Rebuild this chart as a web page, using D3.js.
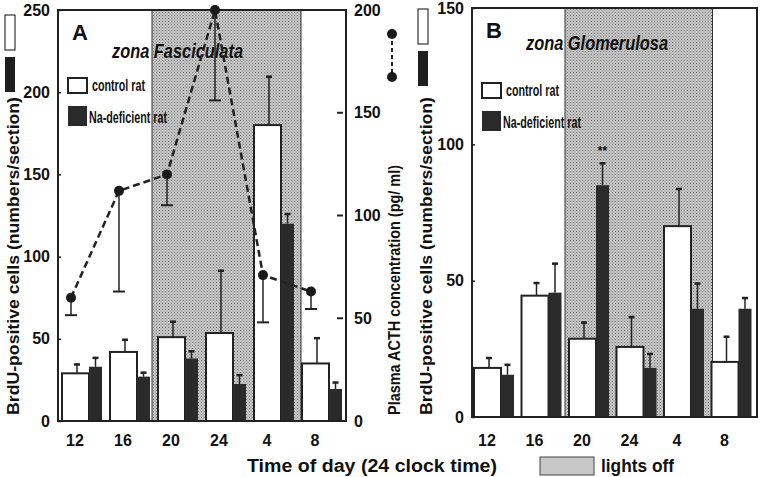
<!DOCTYPE html>
<html>
<head>
<meta charset="utf-8">
<script src="https://cdn.jsdelivr.net/npm/d3@7"></script>
<style>
  body { margin: 0; background: #fff; }
  text { font-family: "Liberation Sans", Arial, sans-serif; font-weight: bold; fill: #111; }
  .narrow { font-family: "Liberation Sans Narrow", "Liberation Sans", Arial, sans-serif; }
</style>
</head>
<body>
<svg width="760" height="477"></svg>
<script>
// data
var hours = ['12', '16', '20', '24', '4', '8'];

// zona fasciculata (panel A), BrdU cells, mean and error above the bar
var fascControl = [29, 42, 51, 53.5, 180, 35];
var fascControlErr = [6, 8, 10, 38.5, 30, 16];
var fascNa = [33, 27, 38, 22.5, 120, 19.5];
var fascNaErr = [6, 3, 5, 6, 6.5, 4.5];

// plasma ACTH (right axis of A), error drawn downward
var acth = [60, 112, 120, 200, 71, 63];
var acthErr = [8.5, 49, 15, 44, 23, 8.5];

// zona glomerulosa (panel B)
var glomControl = [18, 44.5, 28.7, 25.7, 70, 20.2];
var glomControlErr = [4, 5, 6.3, 11.3, 14, 9.6];
var glomNa = [15.5, 45.6, 85, 18, 39.7, 39.7];
var glomNaErr = [4, 11, 8.4, 5.5, 9.6, 4.3];

var fascTicks = [0, 50, 100, 150, 200, 250];
var acthTicks = [0, 50, 100, 150, 200];
var glomTicks = [0, 50, 100, 150];

var svg = d3.select('svg');

// halftone pattern for the dark phase
var pat = svg.append('defs').append('pattern')
  .attr('id', 'dots')
  .attr('width', 3).attr('height', 3)
  .attr('patternUnits', 'userSpaceOnUse');
pat.append('rect').attr('width', 3).attr('height', 3).attr('fill', '#c4c4c4');
pat.append('rect').attr('width', 1).attr('height', 1).attr('fill', '#7a7a7a');
pat.append('rect').attr('x', 1.5).attr('y', 1.5).attr('width', 1).attr('height', 1).attr('fill', '#9a9a9a');

var drawPanel = function(p) {
  var x = d3.scaleBand().domain(hours).range([p.left, p.right]);
  var y = d3.scaleLinear().domain([0, p.max]).range([p.bottom, p.top]);
  var g = svg.append('g');

  // lights off shading (20 .. 4)
  g.append('rect')
    .attr('x', x('20') - 2)
    .attr('y', p.top)
    .attr('width', x('8') + 3 - x('20') + 2)
    .attr('height', p.bottom - p.top)
    .attr('fill', 'url(#dots)')
    .attr('stroke', '#333')
    .attr('stroke-width', 1);

  // control bars
  g.selectAll('.ctl')
    .data(p.control)
    .enter()
    .append('rect')
    .attr('x', function(d, i) { return x(hours[i]) + p.off; })
    .attr('y', function(d) { return y(d); })
    .attr('width', 27)
    .attr('height', function(d) { return p.bottom - y(d); })
    .attr('fill', '#fff')
    .attr('stroke', '#222')
    .attr('stroke-width', 2);

  // Na-deficient bars
  g.selectAll('.na')
    .data(p.na)
    .enter()
    .append('rect')
    .attr('x', function(d, i) { return x(hours[i]) + p.off + 27; })
    .attr('y', function(d) { return y(d); })
    .attr('width', 13)
    .attr('height', function(d) { return p.bottom - y(d); })
    .attr('fill', '#2a2a2a');

  var errBars = function(vals, errs, dx) {
    vals.forEach(function(v, i) {
      var cx = x(hours[i]) + dx;
      g.append('line')
        .attr('x1', cx).attr('x2', cx)
        .attr('y1', y(v)).attr('y2', y(v + errs[i]))
        .attr('stroke', '#222').attr('stroke-width', 1.5);
      g.append('line')
        .attr('x1', cx - 3).attr('x2', cx + 3)
        .attr('y1', y(v + errs[i]) + 1).attr('y2', y(v + errs[i]) + 1)
        .attr('stroke', '#222').attr('stroke-width', 2.5);
    });
  };
  errBars(p.control, p.controlErr, p.off + 15);
  errBars(p.na, p.naErr, p.off + 33.5);

  // frame
  g.append('rect')
    .attr('x', p.left).attr('y', p.top)
    .attr('width', p.right - p.left).attr('height', p.bottom - p.top)
    .attr('fill', 'none').attr('stroke', '#222').attr('stroke-width', 2);

  // left axis, small ticks inside the frame
  var ax = g.append('g')
    .attr('transform', 'translate(' + p.left + ',0)')
    .call(d3.axisLeft(y).tickValues(p.ticks).tickSize(-3).tickPadding(8));
  ax.select('.domain').remove();
  ax.selectAll('line').attr('stroke', '#222').attr('stroke-width', 1.5);
  ax.selectAll('text').style('font-size', '16px').attr('fill', '#111');

  // bottom tick labels under the white bars
  g.selectAll('.hr')
    .data(hours)
    .enter()
    .append('text')
    .attr('x', function(d) { return x(d) + p.off + 13; })
    .attr('y', 446)
    .attr('text-anchor', 'middle')
    .style('font-size', '16px')
    .text(function(d) { return d; });

  // legend
  g.append('rect').attr('x', p.left + 10).attr('y', p.legY)
    .attr('width', 19).attr('height', 15)
    .attr('fill', '#fff').attr('stroke', '#222').attr('stroke-width', 2);
  g.append('rect').attr('x', p.left + 10).attr('y', p.legY + 28)
    .attr('width', 19).attr('height', 20).attr('fill', '#2a2a2a');
  g.append('text').attr('class', 'narrow')
    .attr('x', p.left + 34).attr('y', p.legY + 13)
    .attr('textLength', 53).attr('lengthAdjust', 'spacingAndGlyphs')
    .style('font-size', '16px').text('control rat');
  g.append('text').attr('class', 'narrow')
    .attr('x', p.left + 31).attr('y', p.legY + 45)
    .attr('textLength', 78).attr('lengthAdjust', 'spacingAndGlyphs')
    .style('font-size', '16px').text('Na-deficient rat');

  g.append('text')
    .attr('x', p.left + 14).attr('y', p.letterY)
    .style('font-size', '22px').text(p.letter);
  g.append('text').attr('class', 'narrow')
    .attr('x', p.zx).attr('y', p.zy)
    .attr('textLength', p.zw).attr('lengthAdjust', 'spacingAndGlyphs')
    .style('font-size', '21px').style('font-style', 'italic')
    .attr('fill', '#333')
    .text(p.zone);

  // y title with the white/black key above it
  g.append('text')
    .attr('transform', 'translate(' + p.titleX + ',415) rotate(-90)')
    .attr('textLength', 318).attr('lengthAdjust', 'spacingAndGlyphs')
    .style('font-size', '16px')
    .text('BrdU-positive cells (numbers/section)');
  g.append('rect').attr('x', p.titleX - 14).attr('y', p.keyY)
    .attr('width', 10).attr('height', 35)
    .attr('fill', '#fff').attr('stroke', '#333').attr('stroke-width', 1.2);
  g.append('rect').attr('x', p.titleX - 14).attr('y', p.keyY + 42)
    .attr('width', 10).attr('height', 35).attr('fill', '#1e1e1e');

  return { x: x, y: y, g: g };
};

var A = drawPanel({
  left: 58, right: 346, top: 10, bottom: 421, max: 250, off: 4,
  control: fascControl, controlErr: fascControlErr, na: fascNa, naErr: fascNaErr,
  ticks: fascTicks, legY: 78, letter: 'A', letterY: 40,
  zone: 'zona Fasciculata', zx: 112, zy: 58, zw: 131,
  titleX: 19, keyY: 15
});

var B = drawPanel({
  left: 472, right: 757, top: 8, bottom: 417, max: 150, off: 2,
  control: glomControl, controlErr: glomControlErr, na: glomNa, naErr: glomNaErr,
  ticks: glomTicks, legY: 83, letter: 'B', letterY: 38,
  zone: 'zona Glomerulosa', zx: 526, zy: 50, zw: 142,
  titleX: 432, keyY: 9
});

B.g.append('text')
  .attr('x', B.x('20') + 2 + 27 + 6.5).attr('y', 155)
  .attr('text-anchor', 'middle')
  .style('font-size', '12px')
  .text('**');

// ACTH on the right axis of panel A
var yA = d3.scaleLinear().domain([0, 200]).range([421, 10]);
var px = function(i) { return A.x(hours[i]) + 13; };

var rax = A.g.append('g')
  .attr('transform', 'translate(346,0)')
  .call(d3.axisRight(yA).tickValues(acthTicks).tickSize(0).tickPadding(8));
rax.select('.domain').remove();
rax.selectAll('text').style('font-size', '16px').attr('fill', '#111');
A.g.selectAll('.rt')
  .data([50, 100, 150])
  .enter()
  .append('line')
  .attr('x1', 337).attr('x2', 343)
  .attr('y1', function(d) { return yA(d); })
  .attr('y2', function(d) { return yA(d); })
  .attr('stroke', '#222').attr('stroke-width', 2);

acth.forEach(function(v, i) {
  A.g.append('line')
    .attr('x1', px(i)).attr('x2', px(i))
    .attr('y1', yA(v)).attr('y2', yA(v - acthErr[i]))
    .attr('stroke', '#222').attr('stroke-width', 1.5);
  A.g.append('line')
    .attr('x1', px(i) - 6).attr('x2', px(i) + 6)
    .attr('y1', yA(v - acthErr[i])).attr('y2', yA(v - acthErr[i]))
    .attr('stroke', '#222').attr('stroke-width', 2);
});

A.g.append('path')
  .datum(acth)
  .attr('d', d3.line().x(function(d, i) { return px(i); }).y(function(d) { return yA(d); }))
  .attr('fill', 'none')
  .attr('stroke', '#222')
  .attr('stroke-width', 2.5)
  .attr('stroke-dasharray', '7,4');

A.g.selectAll('.dot')
  .data(acth)
  .enter()
  .append('circle')
  .attr('cx', function(d, i) { return px(i); })
  .attr('cy', function(d) { return yA(d); })
  .attr('r', 5)
  .attr('fill', '#1a1a1a');

A.g.append('text')
  .attr('transform', 'translate(400,415) rotate(-90)')
  .attr('textLength', 250).attr('lengthAdjust', 'spacingAndGlyphs')
  .style('font-size', '16px')
  .text('Plasma ACTH concentration (pg/ ml)');
A.g.append('line')
  .attr('x1', 392).attr('x2', 392).attr('y1', 34).attr('y2', 77)
  .attr('stroke', '#222').attr('stroke-width', 2).attr('stroke-dasharray', '4,3');
A.g.selectAll('.kdot')
  .data([34, 77])
  .enter()
  .append('circle')
  .attr('cx', 392).attr('cy', function(d) { return d; })
  .attr('r', 5).attr('fill', '#1a1a1a');

// x title and lights off key
svg.append('text')
  .attr('x', 247).attr('y', 472)
  .attr('textLength', 250).attr('lengthAdjust', 'spacingAndGlyphs')
  .style('font-size', '18px')
  .text('Time of day (24 clock time)');
svg.append('rect')
  .attr('x', 540).attr('y', 457).attr('width', 54).attr('height', 18)
  .attr('fill', '#c8c8c8').attr('stroke', '#444').attr('stroke-width', 1);
svg.append('text')
  .attr('x', 601).attr('y', 472)
  .attr('textLength', 73).attr('lengthAdjust', 'spacingAndGlyphs')
  .style('font-size', '18px')
  .text('lights off');
</script>
</body>
</html>
